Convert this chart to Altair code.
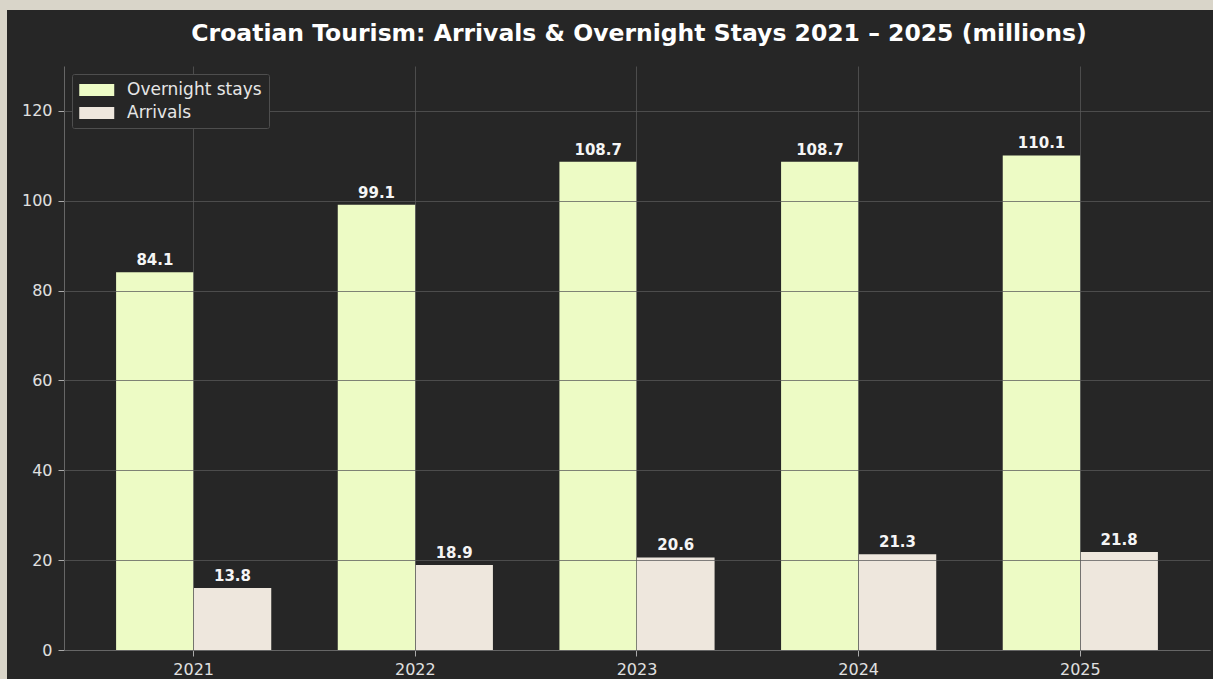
import altair as alt
import pandas as pd

title_text = "Croatian Tourism: Arrivals & Overnight Stays 2021 – 2025 (millions)"
years = ["2021", "2022", "2023", "2024", "2025"]
series_order = ["Overnight stays", "Arrivals"]
overnight = [84.1, 99.1, 108.7, 108.7, 110.1]
arrivals = [13.8, 18.9, 20.6, 21.3, 21.8]
colors = ["#edfbc5", "#eee7dd"]
y_ticks = [0, 20, 40, 60, 80, 100, 120]

rows = []
for i, y in enumerate(years):
    rows.append({"year": y, "series": "Overnight stays", "value": overnight[i]})
    rows.append({"year": y, "series": "Arrivals", "value": arrivals[i]})
df = pd.DataFrame(rows)
df["label"] = df["value"].map(lambda v: f"{v:.1f}")

W, H = 1146, 584
DARK = "#262626"

bg = alt.Chart(pd.DataFrame({"a": [0]})).mark_rect(color=DARK).encode(
    x=alt.value(-57), x2=alt.value(W + 3), y=alt.value(-56), y2=alt.value(H + 29)
)

title = alt.Chart(pd.DataFrame({"t": [title_text]})).mark_text(
    fontSize=23.5, fontWeight="bold", color="#ffffff", align="center", baseline="alphabetic"
).encode(x=alt.value(W / 2 + 2), y=alt.value(-25), text="t:N")

xenc = alt.X(
    "year:N",
    sort=years,
    title=None,
    scale=alt.Scale(paddingInner=0.3, paddingOuter=0.235),
    axis=alt.Axis(
        labelAngle=0, grid=True, bandPosition=0.5, tickSize=6, labelPadding=5,
        labelFontSize=16, zindex=1,
    ),
)
xoff = alt.XOffset("series:N", sort=series_order, scale=alt.Scale(paddingInner=0, paddingOuter=0))

bars = alt.Chart(df).mark_bar().encode(
    x=xenc,
    xOffset=xoff,
    y=alt.Y(
        "value:Q",
        title=None,
        scale=alt.Scale(domain=[0, 130], nice=False),
        axis=alt.Axis(values=y_ticks, tickSize=6, labelPadding=6, labelFontSize=16, zindex=1),
    ),
    color=alt.Color(
        "series:N",
        sort=series_order,
        scale=alt.Scale(domain=series_order, range=colors),
        legend=alt.Legend(
            title=None,
            orient="top-left",
            offset=8,
            symbolType="M-1,-0.68L3,-0.68L3,0.68L-1,0.68Z",
            symbolSize=306,
            symbolStrokeWidth=0,
            labelFontSize=17,
            labelColor="#e6e6e6",
            labelOffset=30,
            rowPadding=6,
            padding=7,
            fillColor=DARK,
            strokeColor="#4e4e4e",
            cornerRadius=2,
            zindex=2,
        ),
    ),
)

texts = alt.Chart(df).mark_text(
    baseline="bottom", dy=-4, fontSize=15, fontWeight="bold", color="#f5f5f5"
).encode(
    x=alt.X("year:N", sort=years),
    xOffset=alt.XOffset("series:N", sort=series_order),
    y="value:Q",
    text="label:N",
)

chart = (
    alt.layer(bg, bars, texts, title)
    .properties(
        width=W,
        height=H,
        autosize=alt.AutoSizeParams(type="none"),
        padding={"left": 64, "top": 66, "right": 3, "bottom": 29},
        background="#d9d5c9",
    )
    .configure(font="DejaVu Sans")
    .configure_view(stroke="#555555", strokeWidth=1)
    .configure_axis(
        gridColor="#5a5a5a", gridOpacity=0.75, gridWidth=1,
        domainColor="#666666", tickColor="#aaaaaa", labelColor="#e0e0e0",
    )
)

chart.save("out.html", embed_options={"renderer": "svg", "actions": False})
